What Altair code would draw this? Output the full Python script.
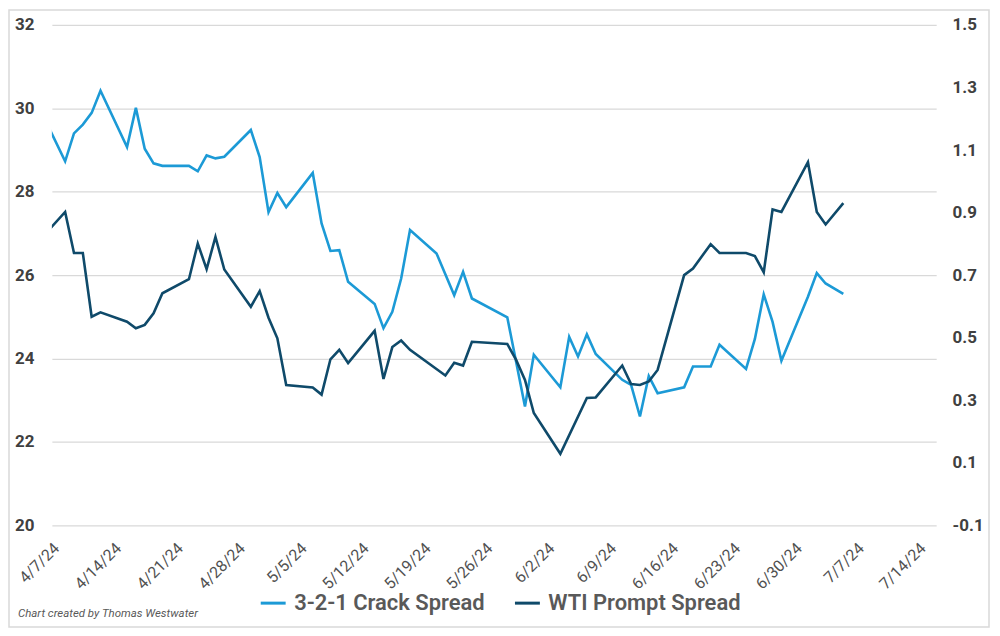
import altair as alt
import pandas as pd

# ---- data ----
crack_dates = [
    "2024-04-05", "2024-04-08", "2024-04-09", "2024-04-10", "2024-04-11", "2024-04-12",
    "2024-04-15", "2024-04-16", "2024-04-17", "2024-04-18", "2024-04-19",
    "2024-04-22", "2024-04-23", "2024-04-24", "2024-04-25", "2024-04-26",
    "2024-04-29", "2024-04-30", "2024-05-01", "2024-05-02", "2024-05-03",
    "2024-05-06", "2024-05-07", "2024-05-08", "2024-05-09", "2024-05-10",
    "2024-05-13", "2024-05-14", "2024-05-15", "2024-05-16", "2024-05-17",
    "2024-05-20", "2024-05-22", "2024-05-23", "2024-05-24",
    "2024-05-28", "2024-05-30", "2024-05-31",
    "2024-06-03", "2024-06-04", "2024-06-05", "2024-06-06", "2024-06-07",
    "2024-06-10", "2024-06-11", "2024-06-12", "2024-06-13", "2024-06-14",
    "2024-06-17", "2024-06-18", "2024-06-20", "2024-06-21",
    "2024-06-24", "2024-06-25", "2024-06-26", "2024-06-27", "2024-06-28",
    "2024-07-01", "2024-07-02", "2024-07-03", "2024-07-05",
]
crack_values = [
    30.05, 28.73, 29.40, 29.61, 29.89, 30.42,
    29.07, 30.01, 29.03, 28.68, 28.62,
    28.62, 28.49, 28.87, 28.80, 28.84,
    29.48, 28.83, 27.51, 27.97, 27.63,
    28.45, 27.24, 26.58, 26.60, 25.84,
    25.31, 24.73, 25.12, 25.92, 27.08,
    26.52, 25.52, 26.08, 25.44,
    24.99, 22.85, 24.09,
    23.31, 24.52, 24.05, 24.58, 24.11,
    23.49, 23.37, 22.61, 23.58, 23.17,
    23.31, 23.81, 23.81, 24.33,
    23.75, 24.47, 25.54, 24.88, 23.95,
    25.48, 26.05, 25.80, 25.55,
]

wti_dates = [
    "2024-04-05", "2024-04-08", "2024-04-09", "2024-04-10", "2024-04-11", "2024-04-12",
    "2024-04-15", "2024-04-16", "2024-04-17", "2024-04-18", "2024-04-19",
    "2024-04-22", "2024-04-23", "2024-04-24", "2024-04-25", "2024-04-26",
    "2024-04-29", "2024-04-30", "2024-05-01", "2024-05-02", "2024-05-03",
    "2024-05-06", "2024-05-07", "2024-05-08", "2024-05-09", "2024-05-10",
    "2024-05-13", "2024-05-14", "2024-05-15", "2024-05-16", "2024-05-17",
    "2024-05-21", "2024-05-22", "2024-05-23", "2024-05-24",
    "2024-05-28", "2024-05-29", "2024-05-30", "2024-05-31",
    "2024-06-03", "2024-06-06", "2024-06-07",
    "2024-06-10", "2024-06-11", "2024-06-12", "2024-06-13", "2024-06-14",
    "2024-06-17", "2024-06-18", "2024-06-20", "2024-06-21",
    "2024-06-24", "2024-06-25", "2024-06-26", "2024-06-27", "2024-06-28",
    "2024-07-01", "2024-07-02", "2024-07-03", "2024-07-05",
]
wti_values = [
    0.808, 0.902, 0.771, 0.771, 0.567, 0.581,
    0.551, 0.530, 0.541, 0.578, 0.642,
    0.687, 0.801, 0.719, 0.822, 0.718,
    0.599, 0.649, 0.564, 0.498, 0.349,
    0.341, 0.318, 0.431, 0.461, 0.419,
    0.522, 0.368, 0.470, 0.491, 0.461,
    0.379, 0.420, 0.411, 0.487,
    0.480, 0.429, 0.365, 0.259,
    0.129, 0.307, 0.309,
    0.411, 0.352, 0.349, 0.360, 0.397,
    0.700, 0.721, 0.799, 0.771,
    0.771, 0.761, 0.709, 0.910, 0.902,
    1.061, 0.902, 0.862, 0.930,
]

series_names = ["3-2-1 Crack Spread", "WTI Prompt Spread"]
series_colors = ["#1c9ad6", "#0f4a6a"]

left_ticks = [20, 22, 24, 26, 28, 30, 32]
right_ticks = [-0.1, 0.1, 0.3, 0.5, 0.7, 0.9, 1.1, 1.3, 1.5]
week_ticks = [(4, 7), (4, 14), (4, 21), (4, 28), (5, 5), (5, 12), (5, 19), (5, 26),
              (6, 2), (6, 9), (6, 16), (6, 23), (6, 30), (7, 7), (7, 14)]
credit = "Chart created by Thomas Westwater"

# ---- build tables ----
crack_df = pd.DataFrame({"date": crack_dates, "value": crack_values, "series": series_names[0]})
wti_df = pd.DataFrame({"date": wti_dates, "value": wti_values, "series": series_names[1]})

FONT = "Roboto, Liberation Sans, sans-serif"
LABEL_COLOR = "#404040"

x_enc = alt.X(
    "date:T",
    scale=alt.Scale(
        type="utc",
        domain=[alt.DateTime(year=2024, month=4, date=6, hours=12, utc=True),
                alt.DateTime(year=2024, month=7, date=15, hours=12, utc=True)],
    ),
    axis=alt.Axis(
        title=None,
        values=[alt.DateTime(year=2024, month=m, date=d, utc=True) for m, d in week_ticks],
        labelExpr="utcFormat(datum.value, '%-m/%-d/%y')",
        labelAngle=315,
        labelAlign="right",
        labelBaseline="middle",
        labelPadding=20,
        labelFontSize=16,
        labelFont=FONT,
        labelColor="#505050",
        grid=False,
        ticks=False,
        domain=False,
        labelOverlap=False,
    ),
)

color_enc = alt.Color(
    "series:N",
    scale=alt.Scale(domain=series_names, range=series_colors),
    legend=alt.Legend(
        title=None,
        orient="none",
        legendX=208,
        legendY=566,
        direction="horizontal",
        symbolType="stroke",
        symbolSize=625,
        symbolStrokeWidth=3,
        labelFontSize=22,
        labelFont=FONT,
        labelFontWeight=600,
        labelColor="#595959",
        labelOffset=7,
        labelLimit=0,
        columnPadding=23,
    ),
)

crack_line = alt.Chart(crack_df).mark_line(strokeWidth=2.6, clip=True).encode(
    x=x_enc,
    y=alt.Y(
        "value:Q",
        scale=alt.Scale(domain=[20, 32], nice=False, zero=False),
        axis=alt.Axis(
            title=None,
            values=left_ticks,
            orient="left",
            grid=True,
            gridColor="#d9d9d9",
            gridWidth=1.2,
            ticks=False,
            domain=False,
            labelPadding=18,
            labelFontSize=17,
            labelFont=FONT,
            labelFontWeight="bold",
            labelColor=LABEL_COLOR,
        ),
    ),
    color=color_enc,
)

wti_line = alt.Chart(wti_df).mark_line(strokeWidth=2.6, clip=True).encode(
    x=x_enc,
    y=alt.Y(
        "value:Q",
        scale=alt.Scale(domain=[-0.1, 1.5], nice=False, zero=False),
        axis=alt.Axis(
            title=None,
            values=right_ticks,
            orient="right",
            grid=False,
            ticks=False,
            domain=False,
            labelExpr="replace(format(datum.value, '.1f'), '\u2212', '-')",
            labelPadding=16,
            labelFontSize=17,
            labelFont=FONT,
            labelFontWeight="bold",
            labelColor=LABEL_COLOR,
        ),
    ),
    color=color_enc,
)

credit_df = pd.DataFrame({"label": [credit]})
credit_text = alt.Chart(credit_df).mark_text(
    align="left", baseline="alphabetic", fontSize=11.5, fontStyle="italic",
    font=FONT, color="#595959",
).encode(text="label:N", x=alt.value(-34), y=alt.value(594))

border = alt.Chart(credit_df).mark_rect(
    fillOpacity=0, stroke="#d9d9d9", strokeWidth=1.5,
).encode(x=alt.value(-43), x2=alt.value(940), y=alt.value(-15), y2=alt.value(604))

chart = alt.layer(border, crack_line, wti_line, credit_text).resolve_scale(
    y="independent"
).properties(
    width=887,
    height=502,
    autosize=alt.AutoSizeParams(type="none"),
    padding={"left": 44, "top": 16, "right": 56, "bottom": 106},
    background="white",
).configure_view(stroke=None)

chart.save("out.html", embed_options={"renderer": "svg", "actions": False})
